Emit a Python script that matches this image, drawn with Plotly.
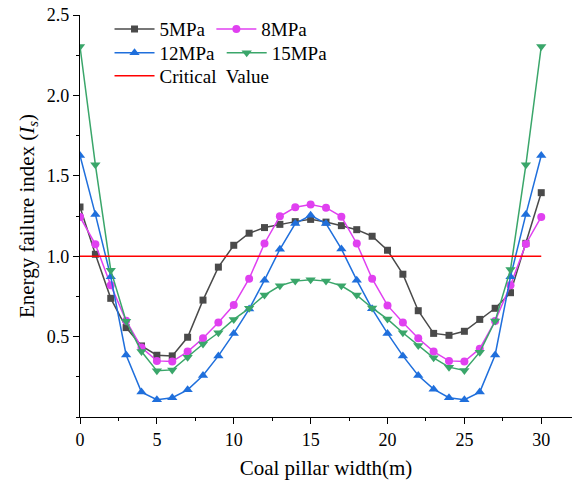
import plotly.graph_objects as go

x = list(range(0, 31))

s5 = [1.306, 1.012, 0.738, 0.556, 0.442, 0.384, 0.380, 0.496, 0.727, 0.932,
      1.068, 1.143, 1.178, 1.198, 1.215, 1.229, 1.212, 1.190, 1.165, 1.124,
      1.037, 0.888, 0.661, 0.520, 0.508, 0.533, 0.607, 0.676, 0.773, 1.080,
      1.395]
s8 = [1.244, 1.074, 0.820, 0.599, 0.432, 0.349, 0.345, 0.407, 0.490, 0.587,
      0.696, 0.860, 1.079, 1.248, 1.304, 1.322, 1.302, 1.246, 1.079, 0.860,
      0.694, 0.587, 0.490, 0.407, 0.349, 0.345, 0.425, 0.597, 0.820, 1.076,
      1.244]
s12 = [1.626, 1.260, 0.872, 0.386, 0.155, 0.107, 0.120, 0.169, 0.258, 0.380,
       0.520, 0.671, 0.851, 1.043, 1.203, 1.254, 1.203, 1.045, 0.851, 0.673,
       0.520, 0.380, 0.258, 0.173, 0.120, 0.107, 0.155, 0.386, 0.872, 1.260,
       1.626]
s15 = [2.304, 1.568, 0.913, 0.595, 0.407, 0.287, 0.293, 0.372, 0.454, 0.524,
       0.607, 0.676, 0.758, 0.816, 0.845, 0.853, 0.845, 0.816, 0.758, 0.678,
       0.609, 0.524, 0.444, 0.368, 0.310, 0.289, 0.403, 0.597, 0.917, 1.568,
       2.304]
crit_x = [0, 30]
crit_y = [1.0, 1.0]

FONT = "Liberation Serif"

fig = go.Figure()
fig.add_trace(go.Scatter(x=x, y=s5, name="5MPa", mode="lines+markers",
                         line=dict(color="#4a4a4a", width=1.5),
                         marker=dict(symbol="square", size=7, color="#4a4a4a"),
                         legend="legend2"))
fig.add_trace(go.Scatter(x=x, y=s8, name="8MPa", mode="lines+markers",
                         line=dict(color="#e040f0", width=1.5),
                         marker=dict(symbol="circle", size=8, color="#e040f0"),
                         legend="legend3"))
fig.add_trace(go.Scatter(x=x, y=s12, name="12MPa", mode="lines+markers",
                         line=dict(color="#1f6fdc", width=1.5),
                         marker=dict(symbol="triangle-up", size=9, color="#1f6fdc"),
                         legend="legend4"))
fig.add_trace(go.Scatter(x=x, y=s15, name="15MPa", mode="lines+markers",
                         line=dict(color="#3aa66a", width=1.5),
                         marker=dict(symbol="triangle-down", size=9, color="#3aa66a"),
                         legend="legend5"))
fig.add_trace(go.Scatter(x=crit_x, y=crit_y, name="Critical  Value", mode="lines",
                         line=dict(color="#ff0000", width=1.5),
                         legend="legend6"))

legend_common = dict(font=dict(family=FONT, size=19, color="black"),
                     bgcolor="rgba(0,0,0,0)", yanchor="top", xanchor="left",
                     itemwidth=40)

fig.update_layout(
    width=572, height=482,
    margin=dict(l=80, r=0, t=15, b=65),
    paper_bgcolor="white", plot_bgcolor="white",
    font=dict(family=FONT, size=18, color="black"),
    legend2=dict(x=0.060, y=1.012, **legend_common),
    legend3=dict(x=0.267, y=1.012, **legend_common),
    legend4=dict(x=0.060, y=0.953, **legend_common),
    legend5=dict(x=0.288, y=0.953, **legend_common),
    legend6=dict(x=0.060, y=0.896, **legend_common),
    xaxis=dict(range=[0, 32], tickvals=[0, 5, 10, 15, 20, 25, 30],
               showline=True, linecolor="black", linewidth=1.2,
               ticks="outside", ticklen=6, tickcolor="black",
               minor=dict(dtick=2.5, tick0=0, ticks="outside", ticklen=3, tickcolor="black"),
               showgrid=False, zeroline=False,
               tickfont=dict(family=FONT, size=18),
               title=dict(text="Coal pillar width(m)", font=dict(family=FONT, size=21), standoff=11)),
    yaxis=dict(range=[0, 2.5], tickvals=[0.5, 1.0, 1.5, 2.0, 2.5],
               ticktext=["0.5", "1.0", "1.5", "2.0", "2.5"],
               showline=True, linecolor="black", linewidth=1.2,
               ticks="outside", ticklen=6, tickcolor="black",
               minor=dict(dtick=0.25, tick0=0, ticks="outside", ticklen=3, tickcolor="black"),
               showgrid=False, zeroline=False,
               tickfont=dict(family=FONT, size=18),
               title=dict(text="Energy failure index (<i>I<sub>s</sub></i>)",
                          font=dict(family=FONT, size=21), standoff=6)),
)

fig.write_html("out.html")
